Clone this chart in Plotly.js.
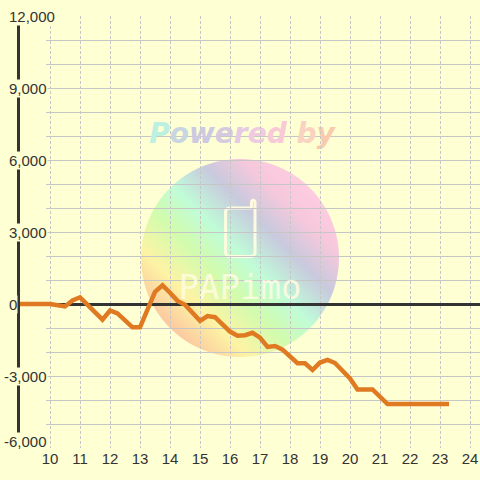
<!DOCTYPE html>
<html>
<head>
<meta charset="utf-8">
<script src="https://cdn.plot.ly/plotly-3.0.1.min.js"></script>
<style>
html,body{margin:0;padding:0;background:#ffffd4;}
#chart{width:480px;height:480px;}
</style>
</head>
<body>
<div id="chart"></div>
<script>
// ---- data (hour of day, coin difference) ----
const hours = [9, 10, 10.5, 10.75, 11, 11.75, 12, 12.25, 12.75, 13, 13.5, 13.75, 14, 14.25, 14.5,
  15, 15.25, 15.5, 16, 16.25, 16.5, 16.75, 17, 17.25, 17.5, 17.75, 18.25, 18.5, 18.75, 19, 19.25,
  19.5, 20, 20.25, 20.75, 21.25, 23.3];
const coins = [0, 0, -100, 150, 280, -650, -270, -390, -970, -970, 510, 780, 470, 130, -30,
  -700, -500, -550, -1150, -1320, -1300, -1200, -1400, -1790, -1750, -1900, -2470, -2470, -2750, -2440, -2330,
  -2460, -3100, -3560, -3560, -4170, -4170];

const xTickVals = [10, 11, 12, 13, 14, 15, 16, 17, 18, 19, 20, 21, 22, 23, 24];
const xTickText = xTickVals.map(String);
const yTickVals = [12000, 9000, 6000, 3000, 0, -3000, -6000];
const yTickText = ['12,000', '9,000', '6,000', '3,000', '0', '-3,000', '-6,000'];
const yGridVals = [12000, 11000, 10000, 9000, 8000, 7000, 6000, 5000, 4000, 3000, 2000, 1000,
  0, -1000, -2000, -3000, -4000, -5000, -6000];

const watermarkTitle = 'Powered by';
const watermarkTitleColors = ['#bcf0e0', '#c8d6e2', '#cccae2', '#d6cae2', '#e4cae2', '#f0cae0', '#f8cad8', '#ffffff', '#fad2c0', '#facaac'];
const watermarkBrand = 'PAPimo';

// ---- geometry / style ----
const W = 480, H = 480, mT = 16, mB = 32;
const plotLeft = 20, gridLeft = 46;
const xMin = 9, xMax = 24.333;
const yMin = -6000, yMax = 12000;
const BG = '#ffffd4';
const GRID = '#c6c6c6';
const INK = '#333333';
const FONT = 'Liberation Sans, Arial, sans-serif';

const pxPerHour = (W - plotLeft) / (xMax - xMin);
const gridXMin = xMin + (gridLeft - plotLeft) / pxPerHour;
const plotH = H - mT - mB;
function pxToHour(px) { return xMin + (px - plotLeft) / pxPerHour; }
function pxToVal(py) { return yMax - (py - mT) * (yMax - yMin) / plotH; }

function makeWatermark() {
  const S = 2, size = 200;
  const c = document.createElement('canvas');
  c.width = size * S; c.height = size * S;
  const g = c.getContext('2d');
  g.scale(S, S);
  const cx = 100, cy = 100, r = 99, k = r * 0.7071;
  const grad = g.createLinearGradient(cx - k, cy + k, cx + k, cy - k);
  grad.addColorStop(0.00, '#fcc8a0');
  grad.addColorStop(0.18, '#fdf4a4');
  grad.addColorStop(0.36, '#d2fcae');
  grad.addColorStop(0.52, '#c0fcd8');
  grad.addColorStop(0.70, '#c8cade');
  grad.addColorStop(0.86, '#f6c8dc');
  grad.addColorStop(1.00, '#ffcce0');
  g.beginPath(); g.arc(cx, cy, r, 0, 2 * Math.PI); g.fillStyle = grad; g.fill();
  // phone icon outline
  g.strokeStyle = 'rgba(255,253,222,0.95)';
  g.lineWidth = 3; g.lineJoin = 'round';
  const L = 85.5, R = 115, T = 50, B = 98.5, rad = 4, aL = 111.5, aT = 44;
  g.beginPath();
  g.moveTo(aL, T);
  g.lineTo(L + rad, T); g.arcTo(L, T, L, T + rad, rad);
  g.lineTo(L, B - rad); g.arcTo(L, B, L + rad, B, rad);
  g.lineTo(R - rad, B); g.arcTo(R, B, R, B - rad, rad);
  g.lineTo(R, aT); g.arc((aL + R) / 2, aT, (R - aL) / 2, 0, Math.PI, true);
  g.lineTo(aL, T);
  g.stroke();
  return c.toDataURL('image/png');
}

const titleHtml = watermarkTitle.split('').map((ch, i) =>
  ch === ' ' ? ' ' : '<span style="color:' + watermarkTitleColors[i] + '">' + ch + '</span>').join('');

const traces = [
  { // watermark texts (grid subplot, beneath data)
    type: 'scatter', mode: 'text', xaxis: 'x', yaxis: 'y',
    x: [pxToHour(242)], y: [pxToVal(136)], text: [titleHtml],
    textposition: 'middle center',
    textfont: { family: 'DejaVu Sans, sans-serif', size: 28, weight: 'bold', style: 'italic', color: '#d0c8e0' },
    hoverinfo: 'skip', showlegend: false, cliponaxis: false
  },
  {
    type: 'scatter', mode: 'text', xaxis: 'x', yaxis: 'y',
    x: [pxToHour(240)], y: [pxToVal(290)], text: [watermarkBrand],
    textposition: 'middle center',
    textfont: { family: 'DejaVu Sans Mono, monospace', size: 34, color: 'rgba(255,253,225,0.85)' },
    hoverinfo: 'skip', showlegend: false, cliponaxis: false
  },
  {
    type: 'scatter', mode: 'lines', xaxis: 'x2', yaxis: 'y2',
    x: hours, y: coins,
    line: { color: '#e07a22', width: 4.5 },
    hoverinfo: 'skip', showlegend: false
  }
];

const annotations = yTickVals.map((v, i) => ({
  xref: 'paper', yref: 'y2', x: 7.5 / W, y: v,
  xanchor: 'left', yanchor: 'middle',
  text: yTickText[i], showarrow: false,
  font: { family: FONT, size: 15, color: INK },
  bgcolor: BG, borderpad: 0,
  xshift: yTickText[i].charAt(0) === '-' ? -5 : 0,
  yshift: v === yMin ? 7 : 0
}));

const layout = {
  width: W, height: H,
  margin: { l: 0, r: 0, t: mT, b: mB, pad: 0 },
  paper_bgcolor: BG, plot_bgcolor: 'rgba(0,0,0,0)',
  showlegend: false,
  xaxis: {
    domain: [gridLeft / W, 1], range: [gridXMin, xMax], anchor: 'y',
    showgrid: false, zeroline: false, showline: false, showticklabels: false, ticks: '', fixedrange: true
  },
  yaxis: {
    domain: [0, 1], range: [yMin, yMax], anchor: 'x',
    tickmode: 'array', tickvals: yGridVals,
    showgrid: true, gridcolor: GRID, gridwidth: 1,
    zeroline: false, showline: false, showticklabels: false, ticks: '', fixedrange: true
  },
  xaxis2: {
    domain: [plotLeft / W, 1], range: [xMin, xMax], anchor: 'y2',
    tickmode: 'array', tickvals: xTickVals, ticktext: xTickText,
    showgrid: true, gridcolor: GRID, gridwidth: 1, griddash: '3px,2px',
    zeroline: false, showline: false, ticks: '',
    tickfont: { family: FONT, size: 15, color: INK },
    layer: 'below traces', fixedrange: true
  },
  yaxis2: {
    domain: [0, 1], range: [yMin, yMax], anchor: 'x2',
    tickmode: 'array', tickvals: [0],
    showgrid: false, zeroline: true, zerolinecolor: INK, zerolinewidth: 3,
    showline: true, linecolor: INK, linewidth: 3,
    showticklabels: false, ticks: '', layer: 'below traces', fixedrange: true
  },
  images: [{
    source: makeWatermark(), xref: 'paper', yref: 'paper',
    x: 140 / W, y: (H - mB - 158) / plotH, sizex: 200 / W, sizey: 200 / plotH,
    xanchor: 'left', yanchor: 'top', sizing: 'stretch', layer: 'below'
  }],
  annotations: annotations
};

Plotly.newPlot('chart', traces, layout, { staticPlot: true, displayModeBar: false });
</script>
</body>
</html>
